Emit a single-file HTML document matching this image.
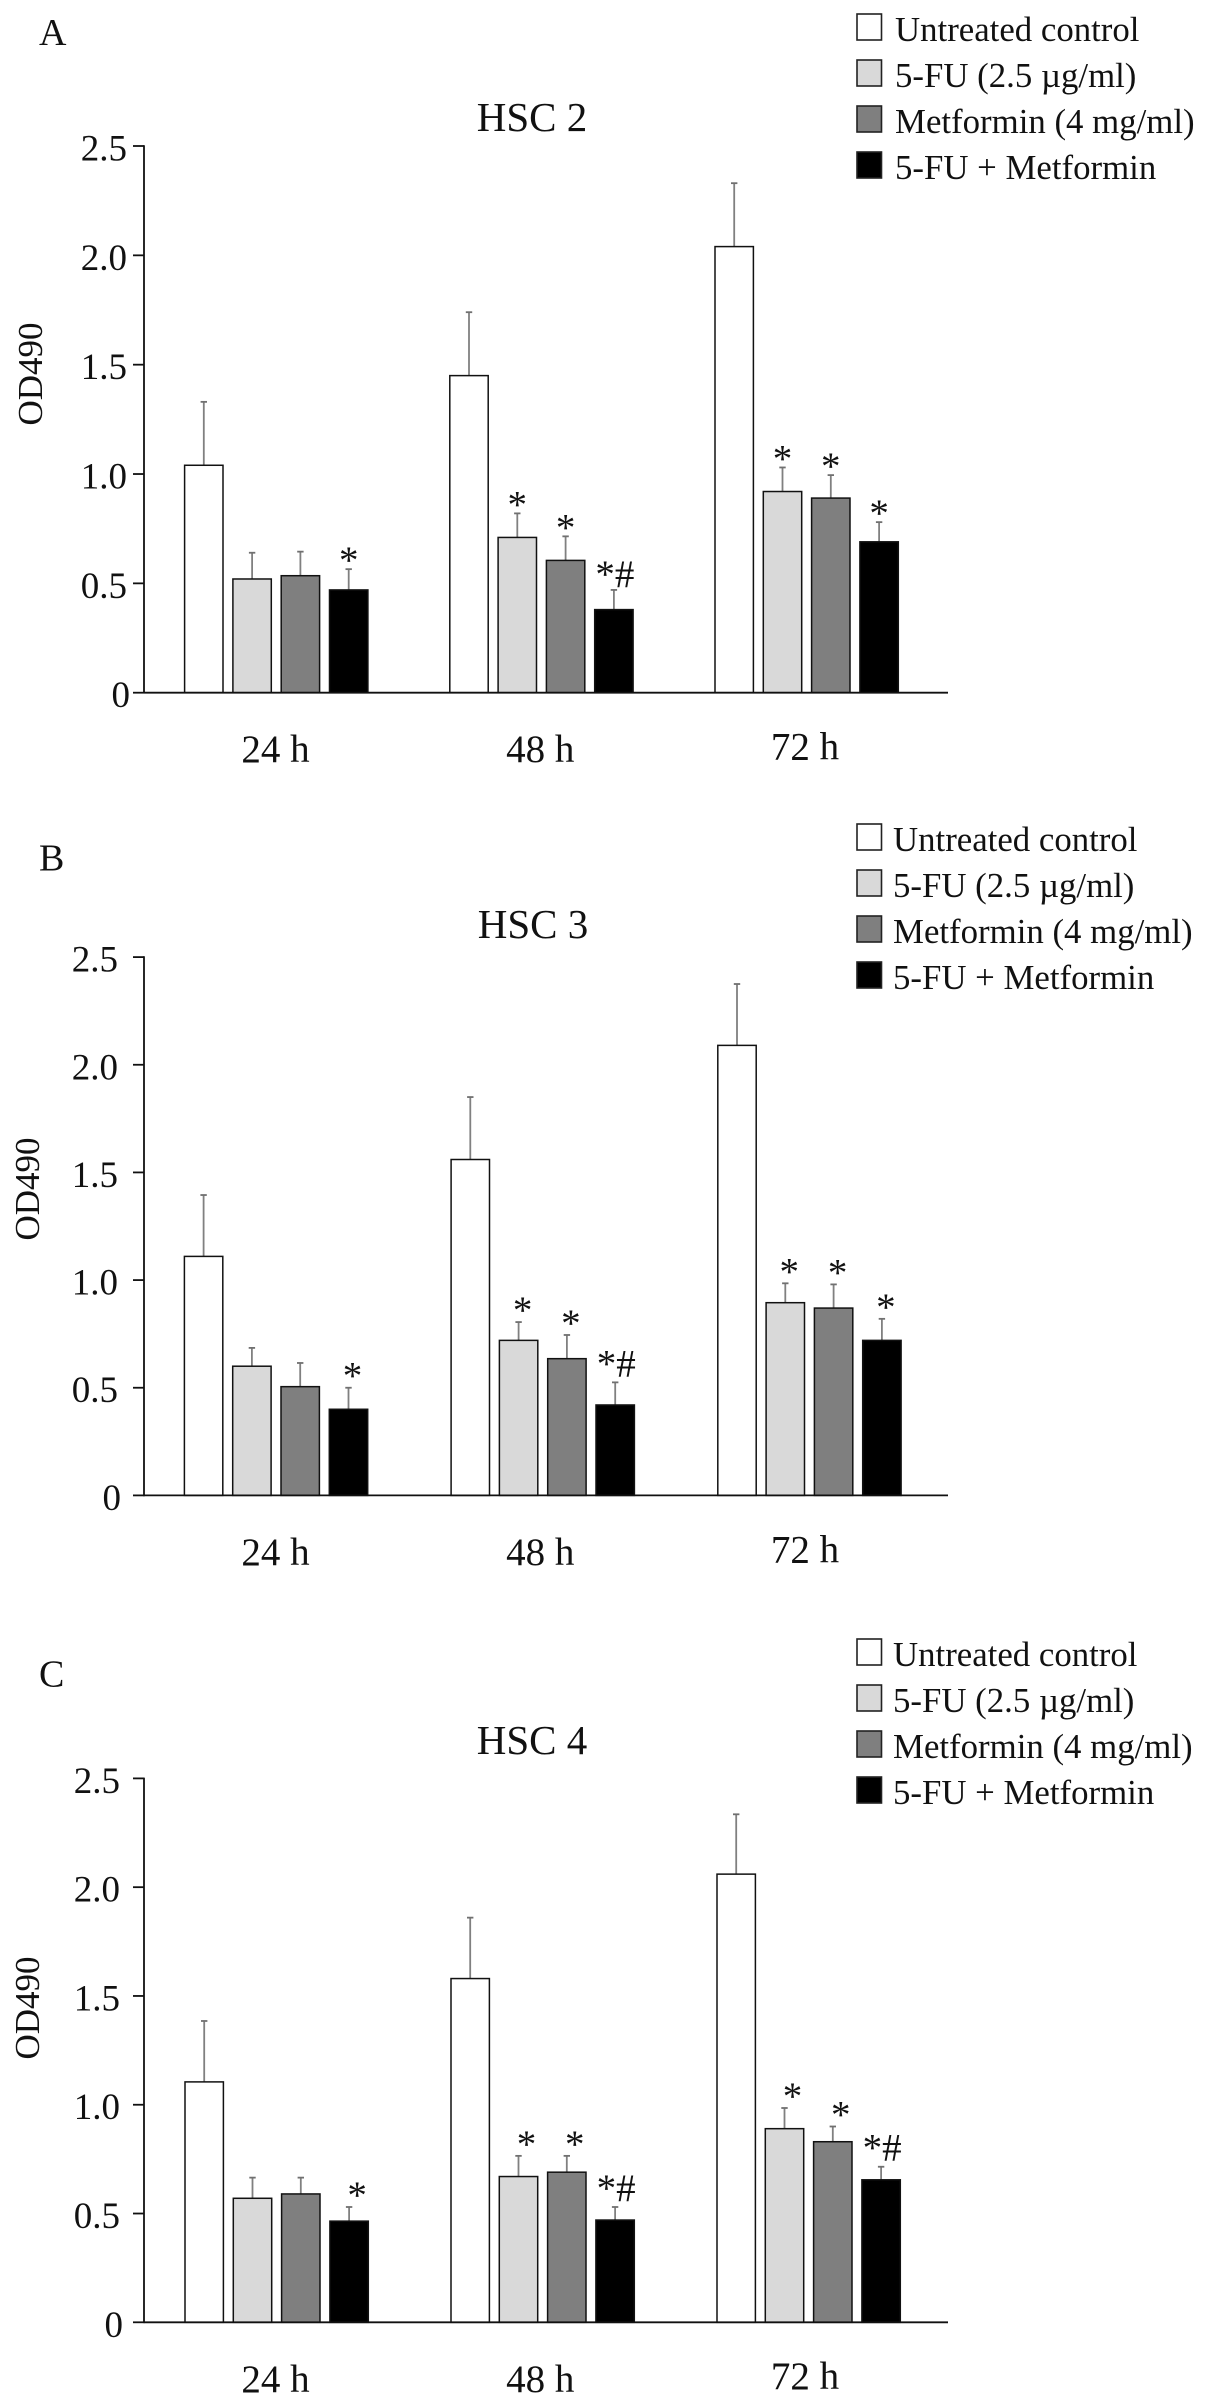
<!DOCTYPE html>
<html lang="en">
<head>
<meta charset="utf-8">
<title>OD490 by treatment: HSC 2, HSC 3, HSC 4</title>
<style>
  html, body { margin: 0; padding: 0; background: #fff; }
  svg { display: block; font-family: "Liberation Serif", "Times New Roman", serif; }
</style>
</head>
<body>
<svg id="figure" xmlns="http://www.w3.org/2000/svg" width="1205" height="2406" viewBox="0 0 1205 2406"></svg>
<script>
const categories = ['24 h', '48 h', '72 h'];
const seriesNames = ['Untreated control', '5-FU (2.5 µg/ml)', 'Metformin (4 mg/ml)', '5-FU + Metformin'];
const tickValues = [0, 0.5, 1, 1.5, 2, 2.5];
const tickLabels = ['0', '0.5', '1.0', '1.5', '2.0', '2.5'];

const hsc2Control = [1.04, 1.45, 2.04];
const hsc2Fu = [0.52, 0.71, 0.92];
const hsc2Met = [0.535, 0.605, 0.89];
const hsc2Combo = [0.47, 0.38, 0.69];
const hsc2ControlErr = [0.29, 0.29, 0.29];
const hsc2FuErr = [0.12, 0.11, 0.11];
const hsc2MetErr = [0.11, 0.11, 0.105];
const hsc2ComboErr = [0.095, 0.09, 0.09];
const hsc2FuSig = ['', '*', '*'];
const hsc2MetSig = ['', '*', '*'];
const hsc2ComboSig = ['*', '*#', '*'];

const hsc3Control = [1.11, 1.56, 2.09];
const hsc3Fu = [0.6, 0.72, 0.895];
const hsc3Met = [0.505, 0.635, 0.87];
const hsc3Combo = [0.4, 0.42, 0.72];
const hsc3ControlErr = [0.285, 0.29, 0.285];
const hsc3FuErr = [0.085, 0.085, 0.09];
const hsc3MetErr = [0.11, 0.11, 0.11];
const hsc3ComboErr = [0.1, 0.105, 0.1];
const hsc3FuSig = ['', '*', '*'];
const hsc3MetSig = ['', '*', '*'];
const hsc3ComboSig = ['*', '*#', '*'];

const hsc4Control = [1.105, 1.58, 2.06];
const hsc4Fu = [0.57, 0.67, 0.89];
const hsc4Met = [0.59, 0.69, 0.83];
const hsc4Combo = [0.465, 0.47, 0.655];
const hsc4ControlErr = [0.28, 0.28, 0.275];
const hsc4FuErr = [0.095, 0.095, 0.095];
const hsc4MetErr = [0.075, 0.075, 0.07];
const hsc4ComboErr = [0.065, 0.06, 0.06];
const hsc4FuSig = ['', '*', '*'];
const hsc4MetSig = ['', '*', '*'];
const hsc4ComboSig = ['*', '*#', '*#'];

const panels = [
  { key: 'hsc-2', letter: 'A', title: 'HSC 2', letterY: 45, titleX: 532, titleY: 131,
    y0: 692.7, yTop: 146, labelRight: 127, odX: 42, odY: 374,
    start: 184.6, groupStep: 265.2, legendX: 895, legendY: 41, sigDx: 0, sigGap: 14,
    means: [hsc2Control, hsc2Fu, hsc2Met, hsc2Combo],
    errs: [hsc2ControlErr, hsc2FuErr, hsc2MetErr, hsc2ComboErr],
    sigs: [null, hsc2FuSig, hsc2MetSig, hsc2ComboSig] },
  { key: 'hsc-3', letter: 'B', title: 'HSC 3', letterY: 870.4, titleX: 533, titleY: 937.8,
    y0: 1495.4, yTop: 957.1, labelRight: 118, odX: 39, odY: 1189,
    start: 184.4, groupStep: 266.7, legendX: 893, legendY: 851, sigDx: 4, sigGap: 17,
    means: [hsc3Control, hsc3Fu, hsc3Met, hsc3Combo],
    errs: [hsc3ControlErr, hsc3FuErr, hsc3MetErr, hsc3ComboErr],
    sigs: [null, hsc3FuSig, hsc3MetSig, hsc3ComboSig] },
  { key: 'hsc-4', letter: 'C', title: 'HSC 4', letterY: 1686.6, titleX: 532, titleY: 1754,
    y0: 2322.3, yTop: 1778.4, labelRight: 120, odX: 39, odY: 2008,
    start: 185, groupStep: 266, legendX: 893, legendY: 1666, sigDx: 8, sigGap: 17,
    means: [hsc4Control, hsc4Fu, hsc4Met, hsc4Combo],
    errs: [hsc4ControlErr, hsc4FuErr, hsc4MetErr, hsc4ComboErr],
    sigs: [null, hsc4FuSig, hsc4MetSig, hsc4ComboSig] }
];

const NS = 'http://www.w3.org/2000/svg';
const INK = '#111';
const fills = ['#ffffff', '#d9d9d9', '#7f7f7f', '#000000'];
const svg = document.getElementById('figure');
const axisX = 144, axisEnd = 948, tickLeft = 133;
const barW = 38.4, barStep = 48.3;

function make(tag, parent) {
  const el = document.createElementNS(NS, tag);
  parent.appendChild(el);
  return el;
}
function setAll(el, props) {
  Object.keys(props).forEach(function (k) { el.setAttribute(k, props[k]); });
  return el;
}
function line(parent, x1, y1, x2, y2, color, width) {
  return setAll(make('line', parent), { x1: x1, y1: y1, x2: x2, y2: y2, stroke: color, 'stroke-width': width });
}
function label(parent, str, x, y, size, anchor) {
  const t = setAll(make('text', parent), { x: x, y: y, 'font-size': size, 'text-anchor': anchor, fill: INK });
  t.textContent = str;
  return t;
}

panels.forEach(function (p) {
  const yScale = function (v) { return p.y0 - (p.y0 - p.yTop) * v / 2.5; };
  const xScale = function (group, series) { return p.start + group * p.groupStep + series * barStep; };

  const g = make('g', svg);
  
  

  const letter = label(g, p.letter, 39, p.letterY, 38, 'start');
  
  

  const title = label(g, p.title, p.titleX, p.titleY, 41, 'middle');
  
  

  const od = label(g, 'OD490', 0, 0, 35, 'middle');
  od.setAttribute('transform', 'translate(' + p.odX + ',' + p.odY + ') rotate(-90)');
  
  

  /* bars, error bars and significance marks */
  p.means.forEach(function (values, s) {
    values.forEach(function (v, c) {
      const x = xScale(c, s), cx = x + barW / 2, top = yScale(v), errTop = yScale(v + p.errs[s][c]);

      const stem = line(g, cx, top, cx, errTop, '#808080', 1.8);
      
      

      const cap = line(g, cx - 3.2, errTop, cx + 3.2, errTop, '#707070', 1.8);
      
      

      const bar = setAll(make('rect', g), { x: x, y: top, width: barW, height: p.y0 - top, fill: fills[s], stroke: '#111', 'stroke-width': 1.5 });
      
      

      const sig = p.sigs[s] ? p.sigs[s][c] : '';
      if (sig) {
        const gap = sig.length > 1 ? p.sigGap + 7 : p.sigGap;
        const dx = sig.length > 1 ? 1 : p.sigDx;
        const mark = label(g, sig, cx + dx, errTop - gap + 18, 39, 'middle');
        
        
      }
    });
  });

  /* axes */
  const yAxis = line(g, axisX, p.yTop - 0.8, axisX, p.y0 + 0.8, INK, 1.8);
  
  

  const xAxis = line(g, axisX, p.y0, axisEnd, p.y0, INK, 1.8);
  
  

  tickValues.forEach(function (v, i) {
    const y = yScale(v);
    const tick = line(g, tickLeft, y, axisX, y, INK, 1.8);
    
    

    const right = p.labelRight + (v === 0 ? 3 : 0);
    const text = label(g, tickLabels[i], right, y + 14.5, 37, 'end');
    
    
  });

  categories.forEach(function (name, c) {
    const tilt = c === 2 ? 2.6 : 0;
    const text = label(g, name, 275.5 + c * 264.75, p.y0 + 69.5 - tilt, 39, 'middle');
    
    
  });

  /* legend */
  const legend = make('g', g);
  
  

  seriesNames.forEach(function (name, s) {
    const base = p.legendY + s * 46;
    const swatch = setAll(make('rect', legend), { x: 857, y: base - 27, width: 24.5, height: 26, fill: fills[s], stroke: '#222', 'stroke-width': 1.6 });
    
    

    const text = label(legend, name, p.legendX, base, 34.8, 'start');
    
    
  });
});
</script>
</body>
</html>
